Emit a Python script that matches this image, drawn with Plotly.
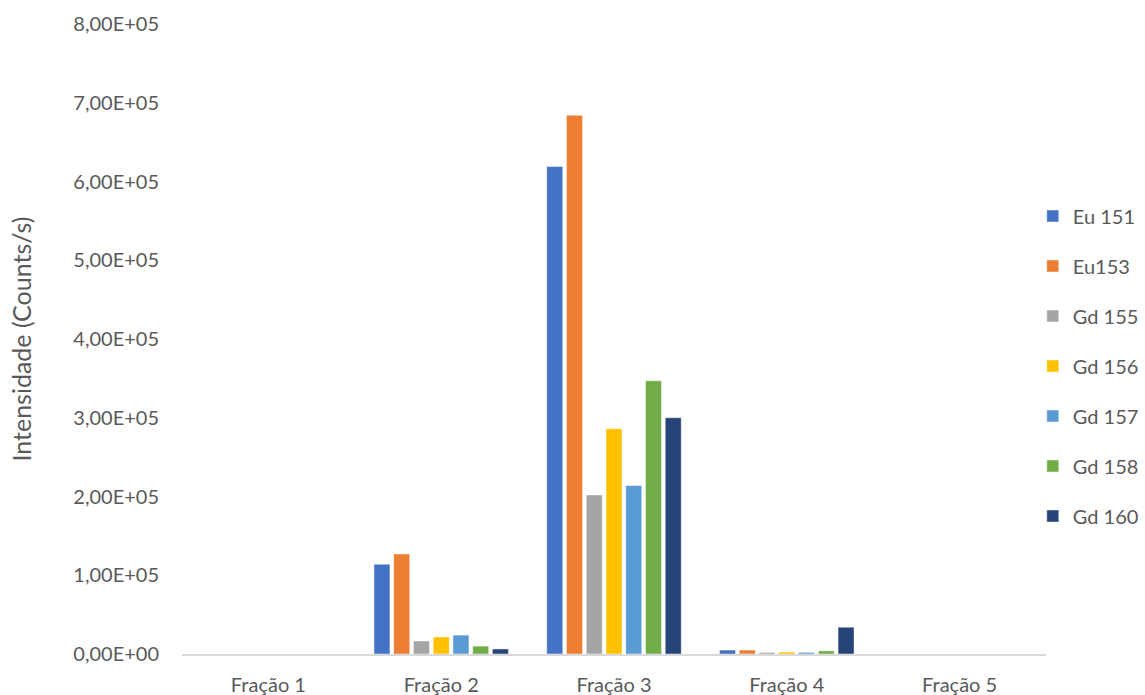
import plotly.graph_objects as go

categories = ["Fração 1", "Fração 2", "Fração 3", "Fração 4", "Fração 5"]
series_names = ["Eu 151", "Eu153", "Gd 155", "Gd 156", "Gd 157", "Gd 158", "Gd 160"]
eu151 = [0, 114000, 619000, 5000, 0]
eu153 = [0, 127000, 684000, 5000, 0]
gd155 = [0, 16500, 202000, 2000, 0]
gd156 = [0, 21600, 286000, 2500, 0]
gd157 = [0, 24000, 214000, 2000, 0]
gd158 = [0, 10000, 347000, 4000, 0]
gd160 = [0, 6400, 300000, 34000, 0]
colors = ["#4472C4", "#ED7D31", "#A5A5A5", "#FFC000", "#5B9BD5", "#70AD47", "#264478"]
tick_vals = [0, 100000, 200000, 300000, 400000, 500000, 600000, 700000, 800000]
tick_text = ["0,00E+00", "1,00E+05", "2,00E+05", "3,00E+05", "4,00E+05",
             "5,00E+05", "6,00E+05", "7,00E+05", "8,00E+05"]

data = [eu151, eu153, gd155, gd156, gd157, gd158, gd160]

fig = go.Figure()
for i, (name, vals) in enumerate(zip(series_names, data)):
    fig.add_trace(go.Bar(
        x=categories, y=vals, name=name, legendgroup=name,
        marker=dict(color=colors[i], line=dict(color="rgba(255,255,255,0.6)", width=0.75)),
    ))

font_family = "Lato, 'Open Sans', sans-serif"
fs = 20
fig.update_layout(
    width=1145, height=695,
    barmode="group", bargap=0.2, bargroupgap=0.19,
    plot_bgcolor="white", paper_bgcolor="white",
    margin=dict(l=182, r=99, t=24, b=41, autoexpand=False),
    font=dict(family=font_family, size=fs, color="#595959"),
    legend=dict(xref="container", x=0.902, xanchor="left",
                yref="container", y=1 - 366 / 695, yanchor="middle",
                font=dict(size=fs, color="#595959"), tracegroupgap=21,
                itemwidth=30),
    xaxis=dict(showline=True, linecolor="#d9d9d9", linewidth=1.5, ticks="",
               showgrid=False, automargin=False, ticklabelstandoff=12,
               tickfont=dict(size=fs, color="#595959")),
    yaxis=dict(range=[0, 800000], tickvals=tick_vals, ticktext=tick_text,
               showgrid=False, zeroline=False, showline=False, ticks="",
               automargin=False, ticklabelstandoff=22,
               tickfont=dict(size=fs, color="#595959"),
               title=dict(text="Intensidade (Counts/s)", standoff=34,
                          font=dict(size=25, color="#595959"))),
)
fig.write_html("out.html")
